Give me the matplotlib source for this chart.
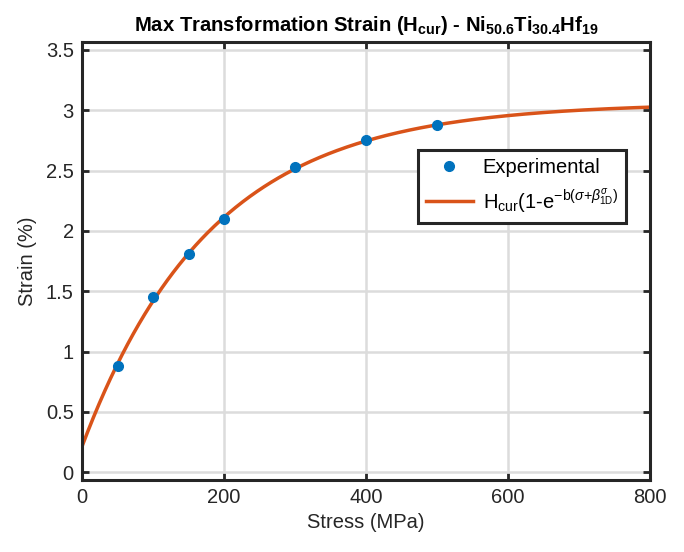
import numpy as np
import matplotlib
matplotlib.use('Agg')
from matplotlib import pyplot as plt

plt.rcParams['font.family'] = ['Liberation Sans', 'DejaVu Sans']
plt.rcParams['mathtext.fontset'] = 'custom'
plt.rcParams['mathtext.rm'] = 'Liberation Sans'
plt.rcParams['mathtext.it'] = 'Liberation Sans:italic'
plt.rcParams['mathtext.bf'] = 'Liberation Sans:bold'

# experimental points
stress = [50, 100, 150, 200, 300, 400, 500]
strain = [0.88, 1.45, 1.81, 2.10, 2.53, 2.75, 2.88]

# fitted curve parameters
H_cur = 3.06
b = 0.0055
beta = 13.2

sig = np.linspace(0, 800, 400)
fit = H_cur * (1 - np.exp(-b * (sig + beta)))

fig = plt.figure(figsize=(6.84, 5.52), dpi=100)
ax = fig.add_axes([0.12, 0.1304, 0.830, 0.7935])

ax.plot(stress, strain, 'o', color='#0072BD', markersize=7, label='Experimental', zorder=3)
ax.plot(sig, fit, '-', color='#D95319', lw=2.5,
        label=r'H$_{\mathrm{cur}}$(1-e$^{\mathrm{-b(}\sigma\mathrm{+}\beta^{\sigma}_{\mathrm{1D}}\mathrm{)}}$',
        zorder=2)

ax.set_xlim(0, 800)
ax.set_ylim(-0.065, 3.565)
ax.set_xticks([0, 200, 400, 600, 800])
ax.set_yticks([0, 0.5, 1, 1.5, 2, 2.5, 3, 3.5])
ax.set_yticklabels(['0', '0.5', '1', '1.5', '2', '2.5', '3', '3.5'])
ax.grid(True, color='#dcdcdc', lw=1.8)
ax.set_axisbelow(True)

for s in ax.spines.values():
    s.set_linewidth(2.2)
    s.set_color('#262626')
ax.tick_params(direction='in', length=5, width=2, top=True, right=True,
               labelsize=14.5, colors='#262626', pad=6)

ax.set_xlabel('Stress (MPa)', fontsize=14.5, color='#262626', labelpad=4)
ax.set_ylabel('Strain (%)', fontsize=14.5, color='#262626', labelpad=6)
ax.set_title(r'Max Transformation Strain (H$_{\mathbf{cur}}$) - Ni$_{\mathbf{50.6}}$Ti$_{\mathbf{30.4}}$Hf$_{\mathbf{19}}$',
             fontsize=14.6, fontweight='bold', pad=8)

leg = ax.legend(loc='upper left', bbox_to_anchor=(0.592, 0.753), borderaxespad=0,
                fontsize=14.5, fancybox=False, framealpha=1, edgecolor='#262626',
                handlelength=2.3, handletextpad=0.5, borderpad=0.4, labelspacing=0.5)
leg.get_frame().set_linewidth(2.2)

fig.savefig('out.png', dpi=100)
